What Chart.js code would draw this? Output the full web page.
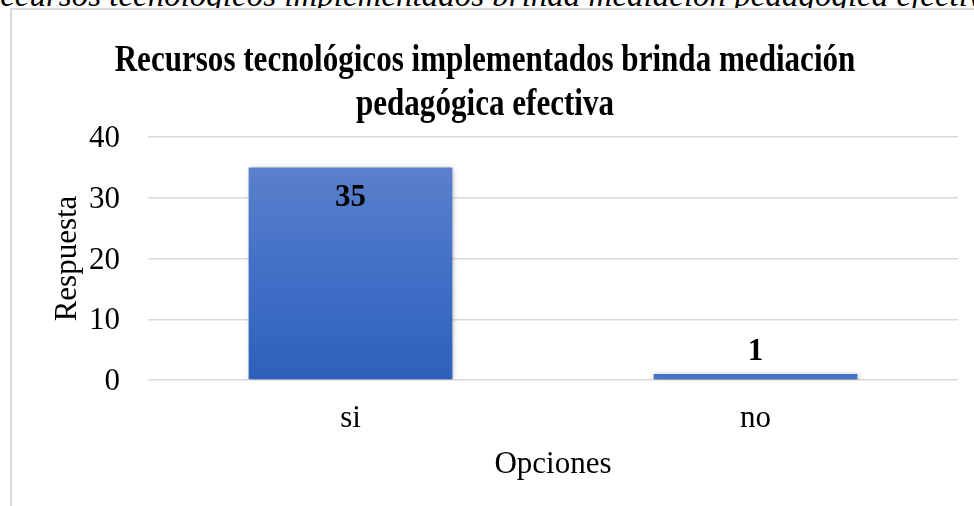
<!DOCTYPE html>
<html>
<head>
<meta charset="utf-8">
<script src="https://cdn.jsdelivr.net/npm/chart.js@4/dist/chart.umd.min.js"></script>
<style>
  html, body { margin: 0; padding: 0; background: #ffffff; width: 974px; height: 506px; overflow: hidden; position: relative; }
  #caption { position: absolute; left: -20px; top: -21px; white-space: nowrap; font-family: "Liberation Serif", "Times New Roman", serif; font-style: italic; font-size: 33px; line-height: 33px; color: #000; }
  #frame { position: absolute; left: 10px; top: 8px; width: 1000px; height: 520px; border: 2px solid #d9d9d9; background: #fff; }
  #c { position: absolute; left: 0; top: 0; }
</style>
</head>
<body>
<div id="caption">Recursos tecnológicos implementados brinda mediación pedagógica efectiva</div>
<div id="frame"><canvas id="c" width="980" height="500"></canvas></div>
<script>
const titleLines = ["Recursos tecnológicos implementados brinda mediación", "pedagógica efectiva"];
const categories = ["si", "no"];
const values = [35, 1];
const yTicks = [0, 10, 20, 30, 40];
const xAxisTitle = "Opciones";
const yAxisTitle = "Respuesta";

const FONT = '"Liberation Serif", "Times New Roman", serif';

function barFill(ctx) {
  const chart = ctx.chart;
  if (!chart.chartArea || ctx.raw === undefined) return '#4472c4';
  const y = chart.scales.y;
  const top = y.getPixelForValue(ctx.raw);
  const bot = y.getPixelForValue(0);
  if (bot - top < 12) return '#4472c4';
  const g = chart.ctx.createLinearGradient(0, top, 0, bot);
  g.addColorStop(0, '#5b80cc');
  g.addColorStop(0.5, '#4170c7');
  g.addColorStop(1, '#2e60ba');
  return g;
}

// Title drawn as real canvas text, slightly condensed like the original
const titlePlugin = {
  id: 'condensedTitle',
  afterDraw(chart) {
    const c = chart.ctx;
    const cx = (0 + chart.chartArea.right) / 2;
    const baselines = [61, 105];
    c.save();
    c.font = 'bold 37px ' + FONT;
    c.fillStyle = '#000';
    c.textAlign = 'center';
    c.textBaseline = 'alphabetic';
    titleLines.forEach((t, i) => {
      c.save();
      c.translate(cx, baselines[i]);
      c.scale(0.84, 1);
      c.fillText(t, 0, 0);
      c.restore();
    });
    c.restore();
  }
};

const shadowPlugin = {
  id: 'barShadow',
  beforeDatasetsDraw(chart) {
    const c = chart.ctx;
    c.save();
    c.shadowColor = 'rgba(0,0,0,0.35)';
    c.shadowBlur = 5;
    c.shadowOffsetX = 1;
    c.shadowOffsetY = 1;
  },
  afterDatasetsDraw(chart) {
    chart.ctx.restore();
    const c = chart.ctx;
    const meta = chart.getDatasetMeta(0);
    c.save();
    c.font = 'bold 31px ' + FONT;
    c.fillStyle = '#000';
    c.textAlign = 'center';
    c.textBaseline = 'middle';
    meta.data.forEach((bar, i) => {
      const v = values[i];
      const h = bar.base - bar.y;
      const yy = h > 60 ? bar.y + 31 : bar.y - 22;
      c.fillText(String(v), bar.x, yy);
    });
    c.restore();
  }
};

new Chart(document.getElementById('c'), {
  type: 'bar',
  data: {
    labels: categories,
    datasets: [{
      data: values,
      backgroundColor: barFill,
      borderWidth: 0,
      categoryPercentage: 1,
      barPercentage: 0.503
    }]
  },
  options: {
    responsive: false,
    animation: false,
    devicePixelRatio: 1,
    layout: { padding: { left: 0, right: 34, top: 127, bottom: 10 } },
    plugins: {
      legend: { display: false },
      tooltip: { enabled: false },
      title: { display: false }
    },
    scales: {
      x: {
        grid: { display: false, drawTicks: false },
        border: { display: false },
        ticks: { color: '#000', font: { family: FONT, size: 31 }, padding: 20, maxRotation: 0 },
        title: { display: true, text: xAxisTitle, color: '#000', font: { family: FONT, size: 31 }, padding: { top: 0, bottom: 17 } },
        afterFit(s) { s.height = 120; }
      },
      y: {
        min: 0,
        max: 40,
        afterBuildTicks(s) { s.ticks = yTicks.map(v => ({ value: v })); },
        grid: { color: '#d9d9d9', lineWidth: 1.5, drawTicks: false },
        border: { display: false },
        ticks: { color: '#000', font: { family: FONT, size: 31 }, padding: 28, labelOffset: 2 },
        title: { display: true, text: yAxisTitle, color: '#000', font: { family: FONT, size: 31 }, padding: { top: 37, bottom: 0 } },
        afterFit(s) { s.width = 136; }
      }
    }
  },
  plugins: [shadowPlugin, titlePlugin]
});
</script>
</body>
</html>
